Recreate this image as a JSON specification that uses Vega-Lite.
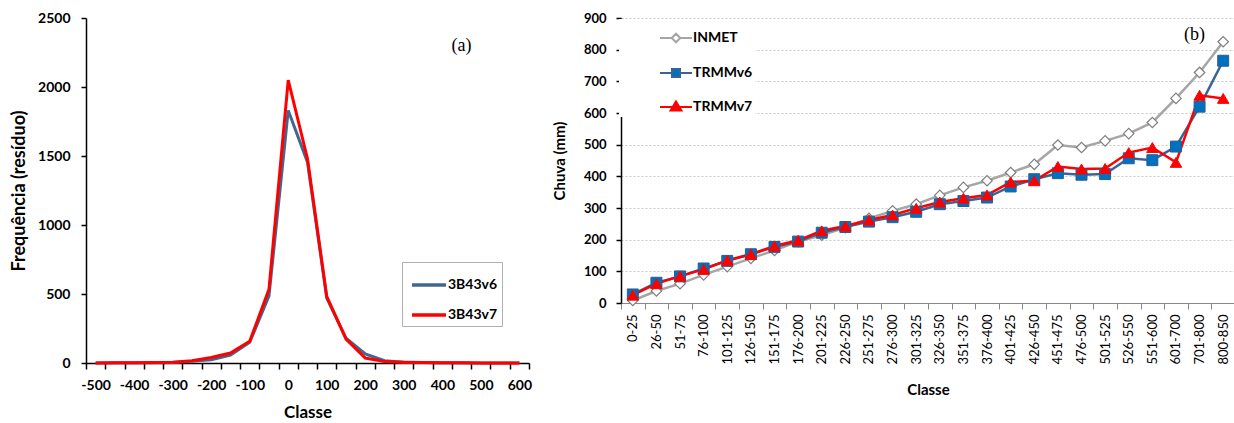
{
  "$schema": "https://vega.github.io/schema/vega-lite/v6.json",
  "padding": {"left": 10, "top": 11, "right": 0, "bottom": 0},
  "background": "white",
  "spacing": 20,
  "config": {
    "font": "Lato",
    "view": {"stroke": null},
    "axis": {"labelFont": "Lato", "titleFont": "Lato", "labelColor": "black", "titleColor": "black", "domainColor": "black", "tickColor": "black"}
  },
  "hconcat": [
    {
      "width": 443,
      "height": 345,
      "layer": [
        {
          "data": {"values": [
            {"classe": -500, "serie": "3B43v6", "freq": 0},
            {"classe": -450, "serie": "3B43v6", "freq": 1},
            {"classe": -400, "serie": "3B43v6", "freq": 1},
            {"classe": -350, "serie": "3B43v6", "freq": 2},
            {"classe": -300, "serie": "3B43v6", "freq": 4},
            {"classe": -250, "serie": "3B43v6", "freq": 12},
            {"classe": -200, "serie": "3B43v6", "freq": 24},
            {"classe": -150, "serie": "3B43v6", "freq": 58},
            {"classe": -100, "serie": "3B43v6", "freq": 150},
            {"classe": -50, "serie": "3B43v6", "freq": 487},
            {"classe": 0, "serie": "3B43v6", "freq": 1830},
            {"classe": 50, "serie": "3B43v6", "freq": 1455},
            {"classe": 100, "serie": "3B43v6", "freq": 470},
            {"classe": 150, "serie": "3B43v6", "freq": 180},
            {"classe": 200, "serie": "3B43v6", "freq": 65},
            {"classe": 250, "serie": "3B43v6", "freq": 17},
            {"classe": 300, "serie": "3B43v6", "freq": 5},
            {"classe": 350, "serie": "3B43v6", "freq": 3},
            {"classe": 400, "serie": "3B43v6", "freq": 2},
            {"classe": 450, "serie": "3B43v6", "freq": 1},
            {"classe": 500, "serie": "3B43v6", "freq": 0},
            {"classe": 550, "serie": "3B43v6", "freq": 0},
            {"classe": 600, "serie": "3B43v6", "freq": 0},
            {"classe": -500, "serie": "3B43v7", "freq": 0},
            {"classe": -450, "serie": "3B43v7", "freq": 1},
            {"classe": -400, "serie": "3B43v7", "freq": 1},
            {"classe": -350, "serie": "3B43v7", "freq": 3},
            {"classe": -300, "serie": "3B43v7", "freq": 6},
            {"classe": -250, "serie": "3B43v7", "freq": 17},
            {"classe": -200, "serie": "3B43v7", "freq": 40},
            {"classe": -150, "serie": "3B43v7", "freq": 72},
            {"classe": -100, "serie": "3B43v7", "freq": 157},
            {"classe": -50, "serie": "3B43v7", "freq": 535},
            {"classe": 0, "serie": "3B43v7", "freq": 2050},
            {"classe": 50, "serie": "3B43v7", "freq": 1480},
            {"classe": 100, "serie": "3B43v7", "freq": 482},
            {"classe": 150, "serie": "3B43v7", "freq": 173},
            {"classe": 200, "serie": "3B43v7", "freq": 36},
            {"classe": 250, "serie": "3B43v7", "freq": 10},
            {"classe": 300, "serie": "3B43v7", "freq": 5},
            {"classe": 350, "serie": "3B43v7", "freq": 3},
            {"classe": 400, "serie": "3B43v7", "freq": 2},
            {"classe": 450, "serie": "3B43v7", "freq": 1},
            {"classe": 500, "serie": "3B43v7", "freq": 0},
            {"classe": 550, "serie": "3B43v7", "freq": 0},
            {"classe": 600, "serie": "3B43v7", "freq": 0}
          ]},
          "mark": {"type": "line", "strokeWidth": 3, "strokeJoin": "miter"},
          "encoding": {
            "x": {
              "field": "classe", "type": "quantitative",
              "scale": {"domain": [-525, 625], "nice": false, "zero": false},
              "axis": {
                "title": "Classe", "titleFontSize": 17, "titleFontWeight": "bold", "titlePadding": 12,
                "values": [-525,-500,-475,-450,-425,-400,-375,-350,-325,-300,-275,-250,-225,-200,-175,-150,-125,-100,-75,-50,-25,0,25,50,75,100,125,150,175,200,225,250,275,300,325,350,375,400,425,450,475,500,525,550,575,600,625],
                "tickCount": 200,
                "labelExpr": "datum.value % 100 === 0 ? '' + datum.value : ''",
                "labelOverlap": false, "labelBound": false, "labelFlush": false,
                "labelFontSize": 14, "labelFontWeight": "bold", "labelPadding": 9,
                "tickSize": 6, "tickWidth": 1.5, "domainWidth": 1.5,
                "tickColor": {"condition": {"test": "(datum.value + 525) % 50 === 0", "value": "black"}, "value": "transparent"},
                "grid": false
              }
            },
            "y": {
              "field": "freq", "type": "quantitative",
              "scale": {"domain": [0, 2500], "nice": false},
              "axis": {
                "title": "Frequência (resíduo)", "titleFontSize": 18, "titleFontWeight": "bold", "titlePadding": 9,
                "values": [0, 500, 1000, 1500, 2000, 2500], "tickCount": 50, "format": "d",
                "labelFontSize": 14, "labelFontWeight": "bold", "labelPadding": 11,
                "tickSize": 5, "tickWidth": 1.5, "domainWidth": 1.5, "grid": false
              }
            },
            "color": {
              "field": "serie", "type": "nominal",
              "scale": {"domain": ["3B43v6", "3B43v7"], "range": ["#426690", "#ff0000"]},
              "legend": {
                "title": null, "orient": "none", "legendX": 316, "legendY": 244,
                "symbolType": "stroke", "symbolSize": 1156, "symbolStrokeWidth": 3.5, "symbolOffset": 4,
                "labelFontSize": 14, "labelFontWeight": "bold", "labelColor": "black", "labelOffset": 0,
                "strokeColor": "#b0b0b0", "fillColor": "white", "padding": 4, "rowPadding": 4
              }
            }
          }
        },
        {
          "data": {"values": [{"px": 450, "py": 2300, "t": "(a)"}]},
          "mark": {"type": "text", "font": "Liberation Serif", "fontSize": 18, "color": "black"},
          "encoding": {
            "x": {"field": "px", "type": "quantitative"},
            "y": {"field": "py", "type": "quantitative"},
            "text": {"field": "t"}
          }
        }
      ]
    },
    {
      "width": 614,
      "height": 285,
      "data": {"name": "rain"},
      "encoding": {
        "x": {
          "field": "classe", "type": "nominal",
          "scale": {"type": "band", "paddingInner": 0, "paddingOuter": 0,
            "domain": ["0-25","26-50","51-75","76-100","101-125","126-150","151-175","176-200","201-225","226-250","251-275","276-300","301-325","326-350","351-375","376-400","401-425","426-450","451-475","476-500","501-525","526-550","551-600","601-700","701-800","800-850"]},
          "axis": {
            "title": "Classe", "titleFontSize": 15, "titleFontWeight": "bold", "titlePadding": 18,
            "labelAngle": 270, "labelFontSize": 13, "labelPadding": 5,
            "tickBand": "extent", "tickSize": 6, "tickColor": "#888888", "domainColor": "#888888", "domainWidth": 1, "grid": false
          }
        },
        "y": {
          "field": "chuva", "type": "quantitative",
          "scale": {"domain": [0, 900], "nice": false},
          "axis": {
            "title": "Chuva (mm)", "titleFontSize": 15, "titleFontWeight": "bold", "titlePadding": 16,
            "values": [0,100,200,300,400,500,600,700,800,900], "tickCount": 50,
            "labelFontSize": 13, "labelFontWeight": "bold", "labelPadding": 10,
            "tickSize": 5, "tickWidth": 1.5, "domainWidth": 1.5,
            "grid": true, "gridColor": "#c8c8c8", "gridDash": [2, 2], "gridWidth": 1
          }
        }
      },
      "layer": [
        {
          "mark": {"type": "line", "strokeWidth": 2.5},
          "encoding": {
            "stroke": {
              "field": "serie", "type": "nominal",
              "scale": {"domain": ["INMET", "TRMMv6", "TRMMv7"], "range": ["#a6a6a6", "#3b6496", "#ff0000"]},
              "legend": {
                "title": null, "orient": "none", "legendX": 533, "legendY": 1,
                "symbolSize": 1024, "symbolStrokeWidth": 2, "symbolOffset": 38,
                "labelFontSize": 14, "labelFontWeight": "bold", "labelColor": "black", "labelOffset": 0,
                "fillColor": "white", "padding": 2, "rowPadding": 9,
                "encode": {"symbols": {"update": {
                  "shape": {"signal": "datum.value === 'INMET' ? 'M-1,0H-0.27M0.27,0H1M-0.27,0L0,-0.27L0.27,0L0,0.27Z' : datum.value === 'TRMMv6' ? 'M-1,0H-0.25M0.25,0H1M-0.25,-0.25H0.25V0.25H-0.25Z' : 'M-1,0H-0.22M0.22,0H1M0,-0.35L0.34,0.22H-0.34Z'"},
                  "fill": {"signal": "datum.value === 'INMET' ? 'white' : datum.value === 'TRMMv6' ? '#0070c0' : '#ff0000'"}
                }}}
              }
            }
          }
        },
        {
          "transform": [{"filter": "datum.serie === 'INMET'"}],
          "mark": {"type": "point", "shape": "diamond", "size": 110, "fill": "white", "stroke": "#7f7f7f", "strokeWidth": 1.2, "opacity": 1}
        },
        {
          "transform": [{"filter": "datum.serie === 'TRMMv6'"}],
          "mark": {"type": "point", "shape": "square", "size": 120, "fill": "#0070c0", "stroke": "#2f5d8a", "strokeWidth": 1, "opacity": 1}
        },
        {
          "transform": [{"filter": "datum.serie === 'TRMMv7'"}],
          "mark": {"type": "point", "shape": "triangle-up", "size": 130, "fill": "#ff0000", "stroke": "#ff0000", "strokeWidth": 1, "opacity": 1}
        },
        {
          "data": {"values": [{"classe": "701-800", "chuva": 845, "t": "(b)"}]},
          "mark": {"type": "text", "font": "Liberation Serif", "fontSize": 18, "color": "black", "dx": -5},
          "encoding": {
            "text": {"field": "t"}
          }
        }
      ]
    }
  ],
  "datasets": {
    "rain": [
      {"classe": "0-25", "serie": "INMET", "chuva": 8},
      {"classe": "26-50", "serie": "INMET", "chuva": 38},
      {"classe": "51-75", "serie": "INMET", "chuva": 61},
      {"classe": "76-100", "serie": "INMET", "chuva": 89},
      {"classe": "101-125", "serie": "INMET", "chuva": 115},
      {"classe": "126-150", "serie": "INMET", "chuva": 141},
      {"classe": "151-175", "serie": "INMET", "chuva": 166},
      {"classe": "176-200", "serie": "INMET", "chuva": 194},
      {"classe": "201-225", "serie": "INMET", "chuva": 214},
      {"classe": "226-250", "serie": "INMET", "chuva": 238},
      {"classe": "251-275", "serie": "INMET", "chuva": 267},
      {"classe": "276-300", "serie": "INMET", "chuva": 291},
      {"classe": "301-325", "serie": "INMET", "chuva": 312},
      {"classe": "326-350", "serie": "INMET", "chuva": 340},
      {"classe": "351-375", "serie": "INMET", "chuva": 365},
      {"classe": "376-400", "serie": "INMET", "chuva": 386},
      {"classe": "401-425", "serie": "INMET", "chuva": 412},
      {"classe": "426-450", "serie": "INMET", "chuva": 438},
      {"classe": "451-475", "serie": "INMET", "chuva": 499},
      {"classe": "476-500", "serie": "INMET", "chuva": 491},
      {"classe": "501-525", "serie": "INMET", "chuva": 512},
      {"classe": "526-550", "serie": "INMET", "chuva": 535},
      {"classe": "551-600", "serie": "INMET", "chuva": 570},
      {"classe": "601-700", "serie": "INMET", "chuva": 646},
      {"classe": "701-800", "serie": "INMET", "chuva": 728},
      {"classe": "800-850", "serie": "INMET", "chuva": 825},
      {"classe": "0-25", "serie": "TRMMv6", "chuva": 27},
      {"classe": "26-50", "serie": "TRMMv6", "chuva": 64},
      {"classe": "51-75", "serie": "TRMMv6", "chuva": 84},
      {"classe": "76-100", "serie": "TRMMv6", "chuva": 109},
      {"classe": "101-125", "serie": "TRMMv6", "chuva": 133},
      {"classe": "126-150", "serie": "TRMMv6", "chuva": 154},
      {"classe": "151-175", "serie": "TRMMv6", "chuva": 177},
      {"classe": "176-200", "serie": "TRMMv6", "chuva": 194},
      {"classe": "201-225", "serie": "TRMMv6", "chuva": 222},
      {"classe": "226-250", "serie": "TRMMv6", "chuva": 240},
      {"classe": "251-275", "serie": "TRMMv6", "chuva": 257},
      {"classe": "276-300", "serie": "TRMMv6", "chuva": 271},
      {"classe": "301-325", "serie": "TRMMv6", "chuva": 288},
      {"classe": "326-350", "serie": "TRMMv6", "chuva": 312},
      {"classe": "351-375", "serie": "TRMMv6", "chuva": 322},
      {"classe": "376-400", "serie": "TRMMv6", "chuva": 333},
      {"classe": "401-425", "serie": "TRMMv6", "chuva": 368},
      {"classe": "426-450", "serie": "TRMMv6", "chuva": 391},
      {"classe": "451-475", "serie": "TRMMv6", "chuva": 410},
      {"classe": "476-500", "serie": "TRMMv6", "chuva": 405},
      {"classe": "501-525", "serie": "TRMMv6", "chuva": 407},
      {"classe": "526-550", "serie": "TRMMv6", "chuva": 457},
      {"classe": "551-600", "serie": "TRMMv6", "chuva": 451},
      {"classe": "601-700", "serie": "TRMMv6", "chuva": 494},
      {"classe": "701-800", "serie": "TRMMv6", "chuva": 620},
      {"classe": "800-850", "serie": "TRMMv6", "chuva": 765},
      {"classe": "0-25", "serie": "TRMMv7", "chuva": 25},
      {"classe": "26-50", "serie": "TRMMv7", "chuva": 61},
      {"classe": "51-75", "serie": "TRMMv7", "chuva": 85},
      {"classe": "76-100", "serie": "TRMMv7", "chuva": 106},
      {"classe": "101-125", "serie": "TRMMv7", "chuva": 135},
      {"classe": "126-150", "serie": "TRMMv7", "chuva": 154},
      {"classe": "151-175", "serie": "TRMMv7", "chuva": 180},
      {"classe": "176-200", "serie": "TRMMv7", "chuva": 198},
      {"classe": "201-225", "serie": "TRMMv7", "chuva": 228},
      {"classe": "226-250", "serie": "TRMMv7", "chuva": 243},
      {"classe": "251-275", "serie": "TRMMv7", "chuva": 262},
      {"classe": "276-300", "serie": "TRMMv7", "chuva": 278},
      {"classe": "301-325", "serie": "TRMMv7", "chuva": 299},
      {"classe": "326-350", "serie": "TRMMv7", "chuva": 319},
      {"classe": "351-375", "serie": "TRMMv7", "chuva": 331},
      {"classe": "376-400", "serie": "TRMMv7", "chuva": 341},
      {"classe": "401-425", "serie": "TRMMv7", "chuva": 382},
      {"classe": "426-450", "serie": "TRMMv7", "chuva": 386},
      {"classe": "451-475", "serie": "TRMMv7", "chuva": 431},
      {"classe": "476-500", "serie": "TRMMv7", "chuva": 423},
      {"classe": "501-525", "serie": "TRMMv7", "chuva": 425},
      {"classe": "526-550", "serie": "TRMMv7", "chuva": 475},
      {"classe": "551-600", "serie": "TRMMv7", "chuva": 491},
      {"classe": "601-700", "serie": "TRMMv7", "chuva": 444},
      {"classe": "701-800", "serie": "TRMMv7", "chuva": 656},
      {"classe": "800-850", "serie": "TRMMv7", "chuva": 646}
    ]
  }
}
